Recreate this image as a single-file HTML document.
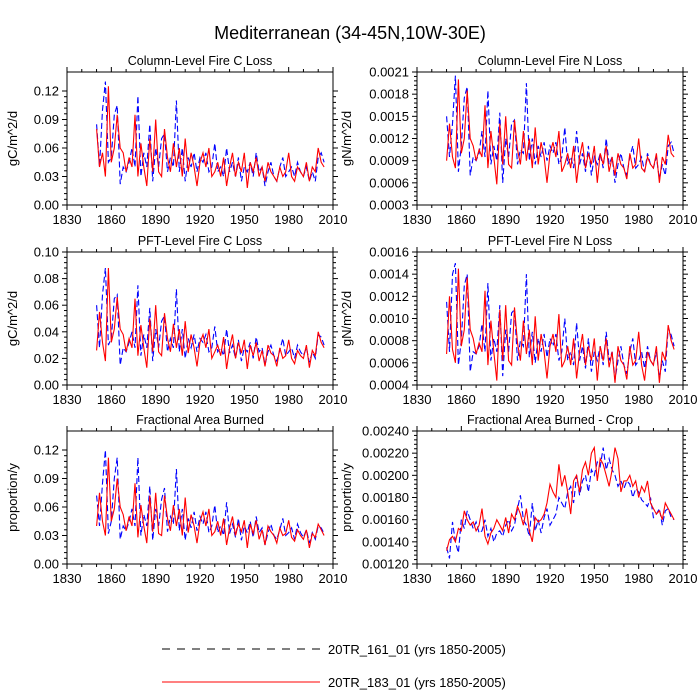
<!DOCTYPE html>
<html><head><meta charset="utf-8">
<style>
html,body{margin:0;padding:0;background:#fff;}
svg{display:block;font-family:"Liberation Sans",Arial,sans-serif;}
</style></head>
<body>
<svg id="chart" width="700" height="700" viewBox="0 0 700 700" xmlns="http://www.w3.org/2000/svg">
<text x="350" y="39" font-size="18" text-anchor="middle">Mediterranean (34-45N,10W-30E)</text>
<g id="panels"></g>
<g>
<line x1="162" y1="649" x2="320" y2="649" stroke="#000" stroke-width="1" stroke-dasharray="8,7"/>
<text x="328" y="654" font-size="13">20TR_161_01 (yrs 1850-2005)</text>
<line x1="162" y1="682" x2="320" y2="682" stroke="#ff0000" stroke-width="1"/>
<text x="328" y="687" font-size="13">20TR_183_01 (yrs 1850-2005)</text>
</g>
</svg>
<script>
const startYear = 1850, yearStep = 2;
const xTicks = [1830,1860,1890,1920,1950,1980,2010];
// Panel 1: Column-Level Fire C Loss (units 1e-3 gC/m^2/d)
const c1Blue = [85,40,100,130,45,50,95,105,22,40,35,45,60,40,115,30,55,40,85,25,60,40,70,75,35,50,40,110,35,60,25,50,40,55,35,50,45,55,35,40,65,35,40,30,60,35,45,30,50,25,40,35,45,30,55,35,40,20,35,45,30,25,40,50,30,35,40,30,45,35,30,40,25,35,25,50,55,45];
const c1Red = [80,40,55,30,125,45,60,95,60,55,35,50,40,95,30,65,40,20,70,35,90,35,30,80,50,35,65,40,60,30,70,35,55,40,20,45,55,40,60,30,35,45,30,50,20,40,55,30,45,35,55,18,45,35,50,30,40,25,45,35,30,25,40,30,35,55,30,25,40,35,30,45,25,40,35,60,45,40];
const c1Ticks = [0,30,60,90,120];
// Panel 2: Column-Level Fire N Loss (units 1e-5 gN/m^2/d)
const n1Blue = [150,95,140,205,75,110,175,190,70,95,90,100,130,95,185,85,110,90,155,60,120,95,140,145,85,105,100,195,90,120,85,110,95,115,90,110,100,115,85,95,135,85,95,80,130,85,100,75,110,70,95,85,100,80,120,85,95,60,85,100,80,70,95,110,80,85,95,75,100,85,80,95,65,85,70,110,115,100];
const n1Red = [90,140,95,80,200,100,120,185,120,110,90,105,95,165,80,130,95,58,140,85,150,85,80,145,105,85,130,90,120,80,135,85,115,95,60,100,115,95,130,75,85,100,80,110,60,95,115,80,100,85,110,60,100,85,110,75,95,70,100,85,80,65,100,80,85,120,80,75,95,85,80,100,60,95,85,125,100,95];
const n1Ticks = [30,60,90,120,150,180,210];
// Panel 3: PFT-Level Fire C Loss (units 1e-3)
const c2Blue = [60,28,68,88,30,35,65,68,15,28,25,32,40,28,75,22,38,28,58,18,42,28,48,52,25,35,28,72,25,42,20,35,28,38,25,35,32,38,25,28,44,25,28,22,42,24,30,20,34,18,28,25,32,20,36,25,28,15,25,30,22,18,26,35,22,25,28,20,30,25,22,28,17,25,20,38,36,30];
const c2Red = [26,55,32,18,88,32,42,66,42,38,25,35,28,65,22,45,28,13,50,25,60,25,22,54,35,25,46,28,42,22,48,24,38,28,14,32,38,28,42,20,25,30,22,36,12,28,38,20,32,24,34,12,30,22,32,18,26,14,30,24,22,14,28,20,22,34,20,16,26,22,20,30,13,26,22,40,32,28];
const c2Ticks = [0,20,40,60,80,100];
// Panel 4: PFT-Level Fire N Loss (units 1e-5)
const n2Blue = [115,70,140,150,58,80,130,140,52,70,68,75,95,70,132,62,82,70,112,48,90,70,105,108,62,80,75,140,65,88,60,82,70,86,65,82,75,86,62,70,100,62,70,58,96,62,75,55,82,52,70,62,75,58,88,62,70,45,62,75,58,50,70,82,58,62,70,55,75,62,58,70,46,62,52,92,85,75];
const n2Red = [68,120,72,60,145,75,90,137,90,82,68,78,70,125,58,98,70,44,108,62,112,62,58,110,78,62,98,68,90,58,102,62,86,70,46,75,86,70,104,56,62,75,58,82,46,70,86,58,75,62,82,44,75,62,82,56,70,42,75,62,58,45,75,58,62,88,58,44,70,62,58,75,42,70,62,94,80,72];
const n2Ticks = [40,60,80,100,120,140,160];
// Panel 5: Fractional Area Burned (units 1e-3 proportion/y)
const faBlue = [72,40,85,120,32,45,90,112,26,40,35,45,58,40,112,30,52,40,82,25,58,40,68,80,34,50,42,100,35,58,25,48,38,55,35,50,42,55,33,40,62,33,40,30,65,32,42,28,48,25,40,33,45,28,50,33,38,20,33,42,30,26,36,48,30,33,38,26,42,33,28,36,22,33,26,40,38,32];
const faRed = [40,75,45,30,112,45,58,90,60,52,35,50,40,85,28,62,40,22,72,34,75,32,30,72,48,35,62,40,58,30,70,33,52,40,22,45,55,40,58,30,34,45,30,48,20,38,50,30,42,34,46,17,42,32,46,26,36,20,40,34,30,22,38,30,32,46,28,24,36,30,26,36,17,32,28,42,36,30];
const faTicks = [0,30,60,90,120];
// Panel 6: Fractional Area Burned - Crop (units 1e-5)
const crBlue = [135,125,158,140,130,160,152,168,160,152,158,148,150,160,145,152,140,148,150,145,155,160,150,155,170,182,160,155,145,175,150,160,148,162,170,155,160,165,180,175,170,185,190,175,200,182,195,200,185,205,200,212,208,225,205,215,205,200,190,195,188,195,192,180,188,185,178,175,172,180,162,165,170,155,168,170,162,160];
const crRed = [132,142,145,140,152,150,168,160,155,158,150,155,170,145,138,148,152,160,155,150,162,148,165,160,172,165,155,170,150,140,162,158,160,165,175,192,185,180,210,190,200,185,165,195,200,185,205,212,200,220,225,195,215,210,200,190,205,225,215,185,195,195,200,190,195,180,190,185,195,175,170,165,168,160,175,170,165,160];
const crTicks = [120,140,160,180,200,220,240];

const panels = [
 {name:'column-c-loss',title:'Column-Level Fire C Loss',ylab:'gC/m^2/d',x0:67,y0:72,blue:c1Blue,red:c1Red,ticks:c1Ticks,ymin:0,ymax:140,scale:1e-3,dec:2,ylx:17},
 {name:'column-n-loss',title:'Column-Level Fire N Loss',ylab:'gN/m^2/d',x0:417,y0:72,blue:n1Blue,red:n1Red,ticks:n1Ticks,ymin:30,ymax:210,scale:1e-5,dec:4,ylx:351},
 {name:'pft-c-loss',title:'PFT-Level Fire C Loss',ylab:'gC/m^2/d',x0:67,y0:252,blue:c2Blue,red:c2Red,ticks:c2Ticks,ymin:0,ymax:100,scale:1e-3,dec:2,ylx:17},
 {name:'pft-n-loss',title:'PFT-Level Fire N Loss',ylab:'gN/m^2/d',x0:417,y0:252,blue:n2Blue,red:n2Red,ticks:n2Ticks,ymin:40,ymax:160,scale:1e-5,dec:4,ylx:351},
 {name:'fraction-area-burned',title:'Fractional Area Burned',ylab:'proportion/y',x0:67,y0:431,blue:faBlue,red:faRed,ticks:faTicks,ymin:0,ymax:140,scale:1e-3,dec:2,ylx:17},
 {name:'fraction-area-burned-crop',title:'Fractional Area Burned - Crop',ylab:'proportion/y',x0:417,y0:431,blue:crBlue,red:crRed,ticks:crTicks,ymin:120,ymax:240,scale:1e-5,dec:5,ylx:351}
];
const W=266,H=133,NS='http://www.w3.org/2000/svg';
const root=document.getElementById('panels');
function mk(tag,attrs,parent){const e=document.createElementNS(NS,tag);for(const k in attrs)e.setAttribute(k,attrs[k]);parent.appendChild(e);return e;}
panels.forEach(p=>{
 const g=mk('g',{},root);
 
 
 const xs=y=>p.x0+(y-1830)/180*W;
 const ys=v=>p.y0+H-(v-p.ymin)/(p.ymax-p.ymin)*H;
 const t=mk('text',{x:p.x0+W/2,y:p.y0-7,'font-size':12.5,'text-anchor':'middle'},g);t.textContent=p.title;
 
 
 const yl=mk('text',{x:p.ylx,y:p.y0+H/2,'font-size':13,'text-anchor':'middle',transform:`rotate(-90 ${p.ylx} ${p.y0+H/2})`},g);yl.textContent=p.ylab;
 
 
 [[p.blue,'#0000ff','6,3','blue'],[p.red,'#ff0000','','red']].forEach(([arr,col,dash,nm])=>{
  const d=arr.map((v,i)=>(i?'L':'M')+xs(startYear+i*yearStep).toFixed(1)+','+ys(v).toFixed(1)).join('');
  const path=mk('path',{d:d,fill:'none',stroke:col,'stroke-width':1.1},g);
  if(dash)path.setAttribute('stroke-dasharray',dash);
  
  
 });
 const frame=mk('rect',{x:p.x0,y:p.y0,width:W,height:H,fill:'none',stroke:'#000','stroke-width':1},g);
 
 
 xTicks.forEach((yr,i)=>{
  const x=xs(yr);
  mk('line',{x1:x,y1:p.y0+H,x2:x,y2:p.y0+H+5,stroke:'#000'},g);
  mk('line',{x1:x,y1:p.y0,x2:x,y2:p.y0-5,stroke:'#000'},g);
  const tl=mk('text',{x:x,y:p.y0+H+19,'font-size':13,'text-anchor':'middle'},g);tl.textContent=yr;
  
  
  if(i<xTicks.length-1)[10,20].forEach(o=>{const xm=xs(yr+o);
   mk('line',{x1:xm,y1:p.y0+H,x2:xm,y2:p.y0+H+3,stroke:'#000'},g);
   mk('line',{x1:xm,y1:p.y0,x2:xm,y2:p.y0-3,stroke:'#000'},g);});
 });
 p.ticks.forEach((v,i)=>{
  const y=ys(v);
  mk('line',{x1:p.x0-5,y1:y,x2:p.x0,y2:y,stroke:'#000'},g);
  mk('line',{x1:p.x0+W,y1:y,x2:p.x0+W+5,y2:y,stroke:'#000'},g);
  const tl=mk('text',{x:p.x0-8,y:y+4.5,'font-size':13,'text-anchor':'end'},g);tl.textContent=(v*p.scale).toFixed(p.dec);
  
  
  if(i<p.ticks.length-1){const st=(p.ticks[i+1]-v)/5;for(let k=1;k<5;k++){const ym=ys(v+st*k);
   mk('line',{x1:p.x0-3,y1:ym,x2:p.x0,y2:ym,stroke:'#000'},g);
   mk('line',{x1:p.x0+W,y1:ym,x2:p.x0+W+3,y2:ym,stroke:'#000'},g);}}
 });
});
</script>
</body></html>
